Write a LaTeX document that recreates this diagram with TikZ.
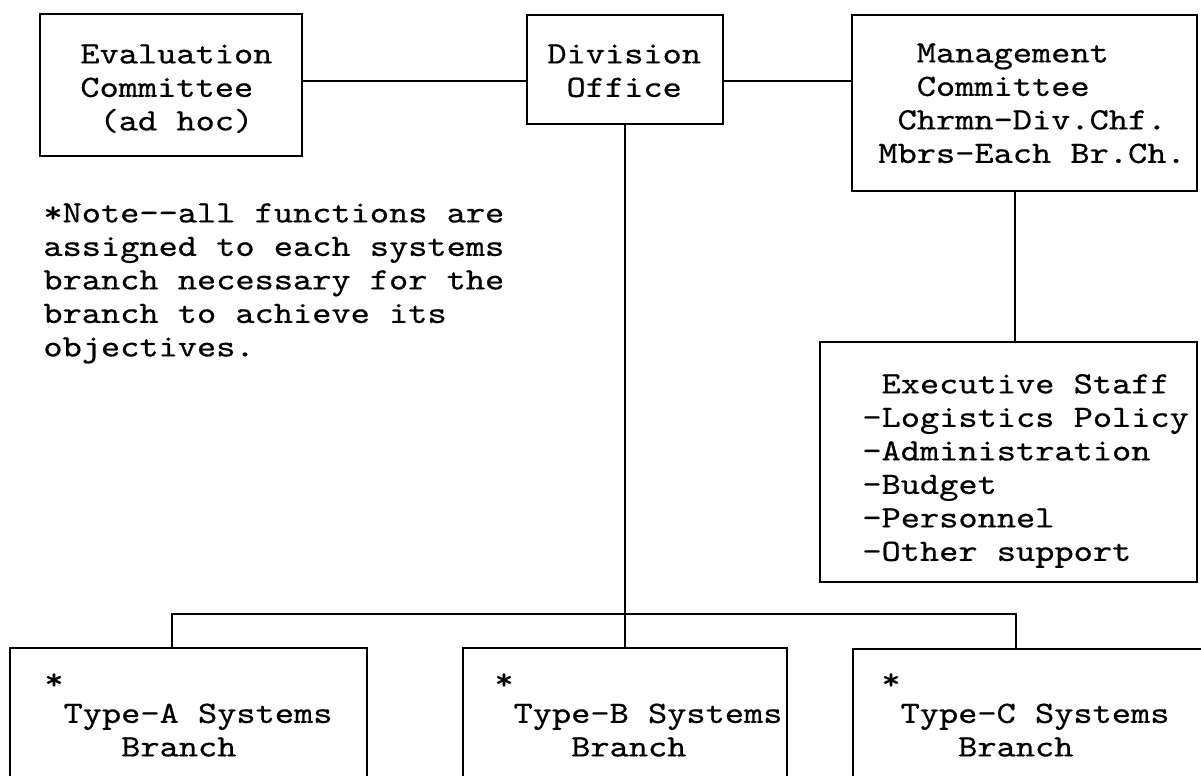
\documentclass[tikz,border=0pt]{standalone}
\usepackage{fontspec}
\setmonofont{lmmono10-regular.otf}[FakeStretch=1.18,FakeBold=0.6]
\usetikzlibrary{fit}
\newcommand\tw{\ttfamily\fontsize{15.5pt}{16.75pt}\selectfont}
\newcommand\blk{\hphantom{x}}
\newcommand\mystrut{\rule{0pt}{11pt}}
\begin{document}
\begin{tikzpicture}[x=0.5pt,y=-0.5pt,
  box/.style={draw, line width=1.3pt, inner sep=0pt},
  txt/.style={anchor=north west, inner sep=0pt, align=left, font=\tw},
  conn/.style={line width=1.2pt}]
\useasboundingbox (0,0) rectangle (1201,776);
\fill[white] (0,0) rectangle (1201,776);
% boxes
\node[box, fit={(40,14) (302,156)}] (eval) {};
\node[box, fit={(527,15) (723,124)}] (div) {};
\node[box, fit={(852,15) (1197,191)}] (mgmt) {};
\node[box, fit={(820,342) (1197,582)}] (exec) {};
\node[box, fit={(10,648) (367,800)}] (typeA) {};
\node[box, fit={(463,648) (787,800)}] (typeB) {};
\node[box, fit={(853,649) (1215,800)}] (typeC) {};
% texts
\node[txt] (evalT) at (80,41) {\mystrut Evaluation\\Committee\\\blk(ad hoc)};
\node[txt] (divT) at (547,41) {\mystrut Division\\\blk Office};
\node[txt] (mgmtT) at (878,40) {\mystrut\blk\blk Management\\\blk\blk Committee\\\blk Chrmn-Div.Chf.\\Mbrs-Each Br.Ch.};
\node[txt] (note) at (43,200) {\mystrut*Note-{}-all functions are\\assigned to each systems\\branch necessary for the\\branch to achieve its\\objectives.};
\node[txt] (execT) at (862,371) {\mystrut\blk Executive Staff\\-Logistics Policy\\-Administration\\-Budget\\-Personnel\\-Other support};
\node[txt] (typeAT) at (44,667) {\mystrut*\\\blk Type-A Systems\\\blk\blk\blk\blk Branch};
\node[txt] (typeBT) at (494,667) {\mystrut*\\\blk Type-B Systems\\\blk\blk\blk\blk Branch};
\node[txt] (typeCT) at (881,667) {\mystrut*\\\blk Type-C Systems\\\blk\blk\blk\blk Branch};
% connectors
\coordinate (hl) at (0,81);
\draw[conn] (eval.east |- hl) -- (div.west |- hl);
\draw[conn] (div.east |- hl) -- (mgmt.west |- hl);
\draw[conn] (div.south) -- (typeB.north);
\coordinate (busL) at (172,614);
\coordinate (busR) at (1016,614);
\draw[conn] (typeA.north -| busL) -- (busL) -- (busR) -- (typeC.north -| busR);
\coordinate (mv) at (1015,0);
\draw[conn] (mgmt.south -| mv) -- (exec.north -| mv);
\end{tikzpicture}
\end{document}
